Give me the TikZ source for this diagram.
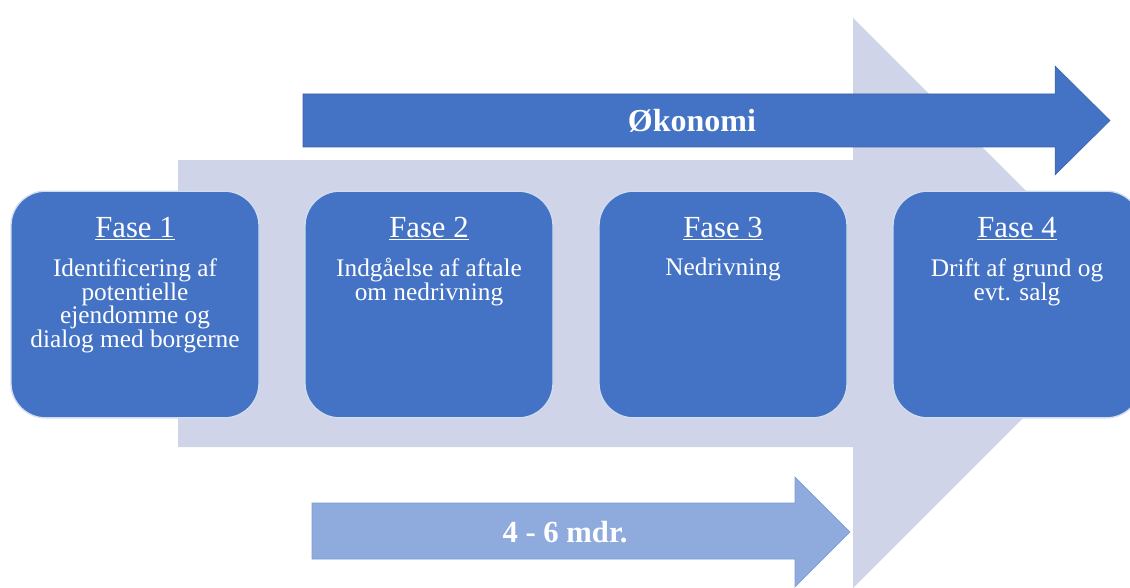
\documentclass[tikz,border=0pt]{standalone}
\usepackage{fontspec}
\setmainfont{Liberation Serif}
\usepackage{tikz}
\usetikzlibrary{positioning}
\definecolor{fasebla}{RGB}{68,114,196}
\definecolor{pilgraa}{RGB}{207,212,233}
\definecolor{lysbla}{RGB}{143,170,220}

\begin{document}
\begin{tikzpicture}[x=0.75pt,y=-0.75pt,
        fase/.style={draw=white!75!fasebla, line width=1pt, fill=fasebla, rounded corners=26pt,
            minimum width=186pt, minimum height=170pt, inner sep=0pt},
        titel/.style={text=white, font=\fontsize{23}{23}\selectfont, anchor=base, inner sep=0pt},
        tekst/.style={text=white, font=\fontsize{19}{17.25}\selectfont, align=center, anchor=north, inner sep=0pt},
        piltekst/.style={text=white, font=\bfseries\fontsize{24}{24}\selectfont, inner sep=0pt}]
        \useasboundingbox (0,0) rectangle (1130,588);
        \clip (0,0) rectangle (1130,588);

        \fill[pilgraa] (178,160) -- (853,160) -- (853,18) -- (1138,303) -- (853,588) -- (853,447) -- (178,447) -- cycle;

        \draw[fill=fasebla, draw=fasebla!85!black] (303,94) -- (1055,94) -- (1055,66) -- (1110,120.5) -- (1055,175) -- (1055,147) -- (303,147) -- cycle;
        \node[piltekst] (oekonomi) at (692,120.5) {Økonomi};

        \draw[fill=lysbla, draw=lysbla!75!fasebla] (312,503) -- (795,503) -- (795,477) -- (850,532) -- (795,587) -- (795,559) -- (312,559) -- cycle;
        \node[piltekst, font=\bfseries\fontsize{23}{23}\selectfont] (varighed) at (565,532) {4 - 6 mdr.};

        \node[fase] (fase1) at (135,304.5) {};
        \node[titel] (titel1) at (135,237) {\underline{Fase 1}};
        \node[tekst] (tekst1) at (135,258) {Identificering af\\potentielle\\ejendomme og\\dialog med borgerne};

        \node[fase] (fase2) at (429,304.5) {};
        \node[titel] (titel2) at (429,237) {\underline{Fase 2}};
        \node[tekst] (tekst2) at (429,258) {Indgåelse af aftale\\om nedrivning};

        \node[fase] (fase3) at (723,304.5) {};
        \node[titel] (titel3) at (723,237) {\underline{Fase 3}};
        \node[tekst] (tekst3) at (723,258) {Nedrivning};

        \node[fase] (fase4) at (1017,304.5) {};
        \node[titel] (titel4) at (1017,237) {\underline{Fase 4}};
        \node[tekst] (tekst4) at (1017,258) {Drift af grund og\\evt. salg};

    \end{tikzpicture}
\end{document}
